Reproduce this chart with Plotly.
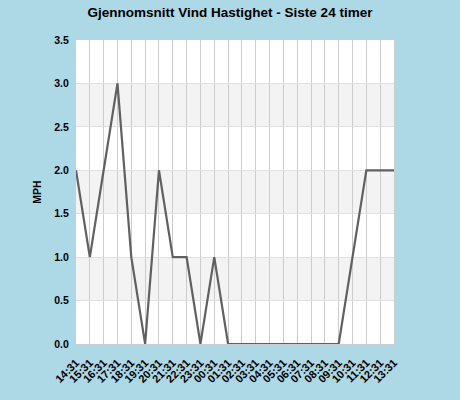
import plotly.graph_objects as go

times = ["14:31","15:31","16:31","17:31","18:31","19:31","20:31","21:31","22:31","23:31",
         "00:31","01:31","02:31","03:31","04:31","05:31","06:31","07:31","08:31","09:31",
         "10:31","11:31","12:31","13:31"]
speed = [2, 1, 2, 3, 1, 0, 2, 1, 1, 0, 1, 0, 0, 0, 0, 0, 0, 0, 0, 0, 1, 2, 2, 2]
bands = [(0.5, 1.0), (1.5, 2.0), (2.5, 3.0)]
yticks = [0, 0.5, 1.0, 1.5, 2.0, 2.5, 3.0, 3.5]

idx = list(range(len(times)))
fig = go.Figure()
fig.add_trace(go.Scatter(x=idx, y=speed, mode="lines",
                         line=dict(color="#606060", width=2.2), hoverinfo="skip"))

for lo, hi in bands:
    fig.add_shape(type="rect", xref="paper", yref="y", x0=0, x1=1, y0=lo, y1=hi,
                  fillcolor="#f3f3f3", line_width=0, layer="below")

font = dict(family="Liberation Sans, Arial, sans-serif", color="#000000")
fig.update_layout(
    width=460, height=400,
    paper_bgcolor="#add8e6", plot_bgcolor="#ffffff",
    margin=dict(l=76, r=66, t=40, b=56, autoexpand=False),
    showlegend=False,
    title=dict(text="Gjennomsnitt Vind Hastighet - Siste 24 timer", x=0.5, xanchor="center",
               y=1 - 12/400, yanchor="middle",
               font=dict(size=13.5, weight="bold", **font)),
    xaxis=dict(range=[0, 23], tickvals=idx, ticktext=times, tickangle=-45,
               showgrid=True, gridcolor="#cccccc", gridwidth=1, zeroline=False,
               showline=True, linecolor="#cccccc", mirror=True,
               ticks="outside", ticklen=7, tickcolor="rgba(0,0,0,0)",
               automargin=False,
               tickfont=dict(size=11, weight="bold", **font)),
    yaxis=dict(range=[0, 3.5], tickvals=yticks, ticktext=[f"{v:.1f}" for v in yticks],
               showgrid=True, gridcolor="#e0e0e0", gridwidth=1, zeroline=False,
               showline=True, linecolor="#cccccc", mirror=True,
               ticks="outside", ticklen=4, tickcolor="rgba(0,0,0,0)",
               automargin=False,
               tickfont=dict(size=10.5, weight="bold", **font),
               title=dict(text="MPH", standoff=10, font=dict(size=10.5, weight="bold", **font))),
)
fig.write_html("out.html", config={"displayModeBar": False},
               post_script="document.body.style.margin='0';document.body.style.background='#add8e6';")
